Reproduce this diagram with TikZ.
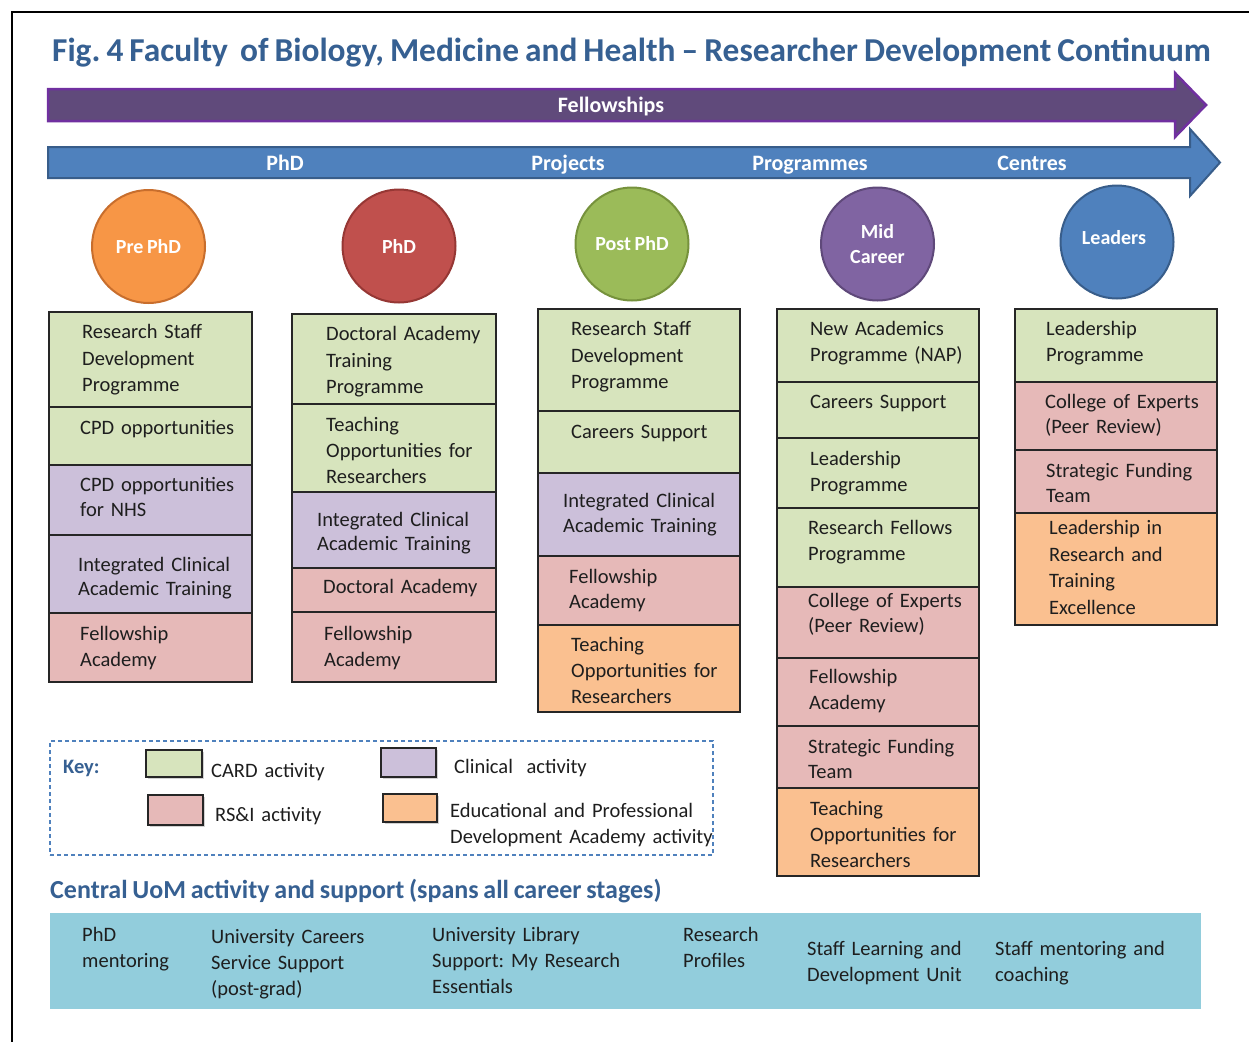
\documentclass[tikz,border=0pt]{standalone}
\usepackage{fontspec}
\setmainfont[WordSpace=0.8]{Carlito}
\frenchspacing
\usetikzlibrary{shadows}

\definecolor{titleblue}{RGB}{54,96,146}
\definecolor{cardgreen}{RGB}{215,228,189}
\definecolor{cliniclilac}{RGB}{204,192,218}
\definecolor{rsipink}{RGB}{230,185,184}
\definecolor{edporange}{RGB}{250,192,144}
\definecolor{bandblue}{RGB}{146,205,220}
\definecolor{fellowfill}{RGB}{96,74,123}
\definecolor{fellowedge}{RGB}{112,48,160}
\definecolor{streamfill}{RGB}{79,129,189}
\definecolor{streamedge}{RGB}{56,93,138}
\definecolor{cellline}{RGB}{38,38,38}
\definecolor{inktext}{RGB}{30,30,30}

\definecolor{preFill}{RGB}{247,150,70}\definecolor{preEdge}{RGB}{200,110,45}
\definecolor{phdFill}{RGB}{192,80,77}\definecolor{phdEdge}{RGB}{150,55,52}
\definecolor{postFill}{RGB}{155,187,89}\definecolor{postEdge}{RGB}{118,146,60}
\definecolor{midFill}{RGB}{128,100,162}\definecolor{midEdge}{RGB}{95,73,122}
\definecolor{leadFill}{RGB}{79,129,189}\definecolor{leadEdge}{RGB}{56,93,138}

\tikzset{
  cell/.style={draw=cellline, line width=1.5pt, rectangle, inner sep=0pt},
  leading/.style={font=\fontsize{20.5}{#1}\selectfont},
  celltxt/.style={anchor=base west, inner sep=0pt, text width=200pt, align=left,
                  text=inktext, leading=26},
  stage/.style={circle, line width=2pt, minimum size=113pt, inner sep=0pt,
                text=white, align=center, font=\fontsize{20}{24.5}\selectfont\bfseries},
  streamlabel/.style={anchor=base, inner sep=0pt, text=white,
                      font=\fontsize{22}{26}\selectfont\bfseries},
  swatch/.style={draw=cellline, line width=1.3pt, inner sep=0pt,
                 drop shadow={shadow xshift=2pt, shadow yshift=-2pt, opacity=0.35}},
  keytxt/.style={anchor=base west, inner sep=0pt, text=inktext, align=left,
                 text width=270pt, leading=26},
  bandtxt/.style={anchor=base west, inner sep=0pt, text=inktext, align=left,
                  text width=200pt, leading=26}
}

% a coloured activity cell: name, fill, left, top, right, bottom
\newcommand\actcell[6]{%
  \node[cell, fill=#2, minimum width={#5-#3}, minimum height={#6-#4}]
    (#1) at ({(#3+#5)/2},{(#4+#6)/2}) {};}
% the text of a cell: options, name, x, first baseline, lines
\newcommand\celltext[5][]{\node[celltxt,#1] (#2) at (#3,#4) {#5};}

\begin{document}
\begin{tikzpicture}[x=1pt,y=-1pt]
\useasboundingbox (0,0) rectangle (1249,1042);
\fill[white] (0,0) rectangle (1249,1042);

% page frame
\coordinate (frameTL) at (12,12);
\coordinate (frameTR) at (1249,12);
\coordinate (frameBL) at (12,1042);
\draw[line width=1.5pt, black] (frameTR) -- (frameTL) -- (frameBL);

% title
\node[anchor=base west, inner sep=0pt, text=titleblue,
      font=\fontsize{33.4}{36}\selectfont\bfseries] (title) at (52,61)
  {Fig. 4 Faculty\ \ of Biology, Medicine and Health -- Researcher Development Continuum};

% fellowships arrow
\path[fill=fellowfill, draw=fellowedge, line width=2.5pt, line join=miter]
  (48,89) -- (1175,89) -- (1175,73) -- (1206,105) -- (1175,137) -- (1175,121) -- (48,121) -- cycle;
\node[streamlabel] (fellowships) at (611,112) {Fellowships};

% career stream arrow
\path[fill=streamfill, draw=streamedge, line width=2pt, line join=miter]
  (48,147) -- (1190,147) -- (1190,129) -- (1220,162.5) -- (1190,196) -- (1190,178) -- (48,178) -- cycle;
\node[streamlabel] (sPhD) at (285,170) {PhD};
\node[streamlabel] (sProjects) at (568,170) {Projects};
\node[streamlabel] (sProgrammes) at (810,170) {Programmes};
\node[streamlabel] (sCentres) at (1032,170) {Centres};

% career stages
\node[stage, fill=preFill, draw=preEdge] (prephd) at (148.5,246.5) {Pre PhD};
\node[stage, fill=phdFill, draw=phdEdge] (phd) at (399,246) {PhD};
\node[stage, fill=postFill, draw=postEdge] (postphd) at (632,244) {Post PhD};
\node[stage, fill=midFill, draw=midEdge] (midcareer) at (877.5,244) {Mid\\Career};
\node[stage, fill=leadFill, draw=leadEdge] (leaders) at (1117,242) {};
\node[inner sep=0pt, text=white, font=\fontsize{20}{24.5}\selectfont\bfseries]
  (leaderslabel) at (1114,238) {Leaders};

% column 1: Pre PhD
\actcell{c1a}{cardgreen}{49}{312}{252}{407}
\actcell{c1b}{cardgreen}{49}{407}{252}{465}
\actcell{c1c}{cliniclilac}{49}{465}{252}{535}
\actcell{c1d}{cliniclilac}{49}{535}{252}{613}
\actcell{c1e}{rsipink}{49}{613}{252}{682}
\celltext[leading=26.5]{t1a}{82}{338.5}{Research Staff\\Development\\Programme}
\celltext{t1b}{80}{434.5}{CPD opportunities}
\celltext[leading=25]{t1c}{80}{491.5}{CPD opportunities\\for NHS}
\celltext[leading=24]{t1d}{78}{571.5}{Integrated Clinical\\Academic Training}
\celltext{t1e}{80}{640.5}{Fellowship\\Academy}

% column 2: PhD
\actcell{c2a}{cardgreen}{292}{314}{496}{404}
\actcell{c2b}{cardgreen}{292}{404}{496}{492}
\actcell{c2c}{cliniclilac}{292}{492}{496}{568}
\actcell{c2d}{rsipink}{292}{568}{496}{612}
\actcell{c2e}{rsipink}{292}{612}{496}{682}
\celltext[leading=26.5]{t2a}{326}{340.5}{Doctoral Academy\\Training\\Programme}
\celltext{t2b}{326}{431.5}{Teaching\\Opportunities for\\Researchers}
\celltext[leading=24]{t2c}{317}{526.5}{Integrated Clinical\\Academic Training}
\celltext{t2d}{323}{593.5}{Doctoral Academy}
\celltext{t2e}{324}{640.5}{Fellowship\\Academy}

% column 3: Post PhD
\actcell{c3a}{cardgreen}{538}{309}{740}{411}
\actcell{c3b}{cardgreen}{538}{411}{740}{473}
\actcell{c3c}{cliniclilac}{538}{473}{740}{556}
\actcell{c3d}{rsipink}{538}{556}{740}{625}
\actcell{c3e}{edporange}{538}{625}{740}{712}
\celltext[leading=26.5]{t3a}{571}{335.5}{Research Staff\\Development\\Programme}
\celltext{t3b}{571}{438.5}{Careers Support}
\celltext[leading=25]{t3c}{563}{507.5}{Integrated Clinical\\Academic Training}
\celltext[leading=25]{t3d}{569}{583.5}{Fellowship\\Academy}
\celltext{t3e}{571}{651.5}{Teaching\\Opportunities for\\Researchers}

% column 4: Mid Career
\actcell{c4a}{cardgreen}{777}{309}{979}{382}
\actcell{c4b}{cardgreen}{777}{382}{979}{438}
\actcell{c4c}{cardgreen}{777}{438}{979}{508}
\actcell{c4d}{cardgreen}{777}{508}{979}{587}
\actcell{c4e}{rsipink}{777}{587}{979}{658}
\actcell{c4f}{rsipink}{777}{658}{979}{726}
\actcell{c4g}{rsipink}{777}{726}{979}{788}
\actcell{c4h}{edporange}{777}{788}{979}{876}
\celltext{t4a}{810}{335.5}{New Academics\\Programme (NAP)}
\celltext{t4b}{810}{408.5}{Careers Support}
\celltext{t4c}{810}{465.5}{Leadership\\Programme}
\celltext{t4d}{808}{534.5}{Research Fellows\\Programme}
\celltext[leading=25]{t4e}{808}{607.5}{College of Experts\\(Peer Review)}
\celltext{t4f}{809}{683.5}{Fellowship\\Academy}
\celltext[leading=25]{t4g}{808}{753.5}{Strategic Funding\\Team}
\celltext{t4h}{810}{815.5}{Teaching\\Opportunities for\\Researchers}

% column 5: Leaders
\actcell{c5a}{cardgreen}{1015}{309}{1217}{382}
\actcell{c5b}{rsipink}{1015}{382}{1217}{450}
\actcell{c5c}{rsipink}{1015}{450}{1217}{513}
\actcell{c5d}{edporange}{1015}{513}{1217}{625}
\celltext{t5a}{1046}{335.5}{Leadership\\Programme}
\celltext[leading=25]{t5b}{1045}{408.5}{College of Experts\\(Peer Review)}
\celltext[leading=25]{t5c}{1046}{477.5}{Strategic Funding\\Team}
\celltext[leading=26.7]{t5d}{1049}{534.5}{Leadership in\\Research and\\Training\\Excellence}

% key
\node[draw=streamfill, line width=1.2pt, dash pattern=on 4pt off 3pt,
      minimum width=663pt, minimum height=114pt, inner sep=0pt] (key) at (381.5,798) {};
\node[anchor=base west, inner sep=0pt, text=titleblue,
      font=\fontsize{20.5}{24}\selectfont\bfseries] (keyhead) at (63,773.5) {Key:};
\node[swatch, fill=cardgreen, minimum width=56pt, minimum height=27pt] (swCard) at (174,763.5) {};
\node[swatch, fill=rsipink, minimum width=55pt, minimum height=30pt] (swRsi) at (175.5,810) {};
\node[swatch, fill=cliniclilac, minimum width=55pt, minimum height=29pt] (swClin) at (408.5,762.5) {};
\node[swatch, fill=edporange, minimum width=54pt, minimum height=28pt] (swEdp) at (410,808) {};
\node[keytxt] (kCard) at (211,777.5) {CARD activity};
\node[keytxt] (kRsi) at (215,821.5) {RS\&I activity};
\node[keytxt] (kClin) at (454,773.5) {Clinical\ \ activity};
\node[keytxt] (kEdp) at (450,817.5) {Educational and Professional\\Development Academy activity};

% central university support
\node[anchor=base west, inner sep=0pt, text=titleblue,
      font=\fontsize{26}{30}\selectfont\bfseries] (centralhead) at (50,898)
  {Central UoM activity and support (spans all career stages)};
\node[fill=bandblue, minimum width=1151pt, minimum height=96pt, inner sep=0pt] (band) at (625.5,961) {};
\node[bandtxt] (bPhd) at (82,941.5) {PhD\\mentoring};
\node[bandtxt] (bCareers) at (211,943.5) {University Careers\\Service Support\\(post-grad)};
\node[bandtxt] (bLibrary) at (432,941.5) {University Library\\Support: My Research\\Essentials};
\node[bandtxt] (bProfiles) at (683,941.5) {Research\\Profiles};
\node[bandtxt] (bLearning) at (807,955.5) {Staff Learning and\\Development Unit};
\node[bandtxt] (bMentoring) at (995,955.5) {Staff mentoring and\\coaching};
\end{tikzpicture}
\end{document}
